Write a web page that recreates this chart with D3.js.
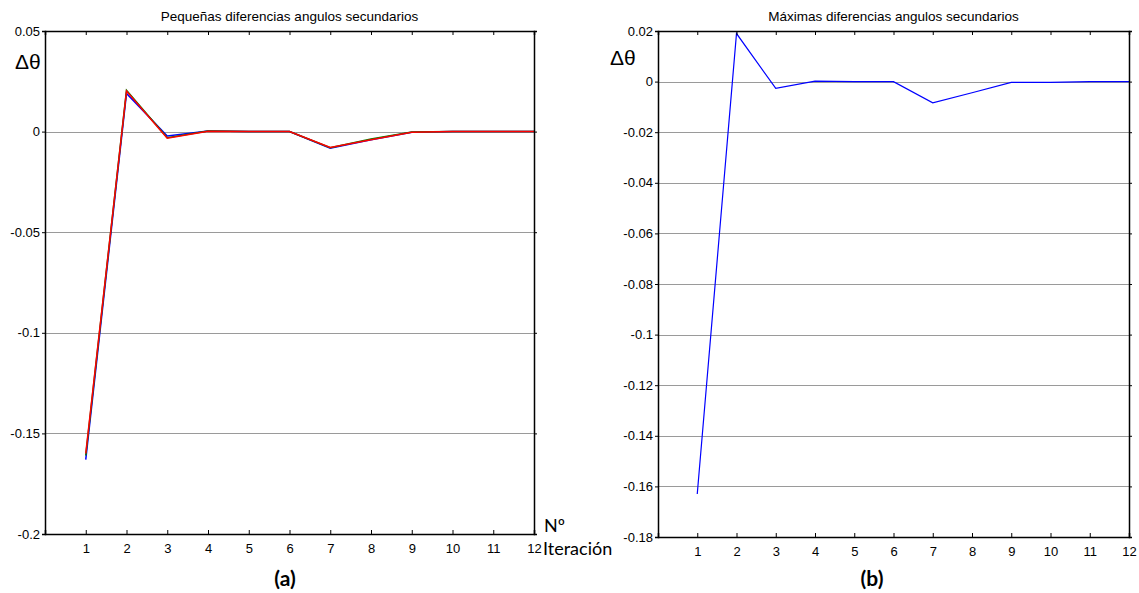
<!DOCTYPE html>
<html>
<head>
<meta charset="utf-8">
<script src="https://cdn.jsdelivr.net/npm/d3@7"></script>
<style>
  body { margin: 0; background: #fff; }
  svg { display: block; }
</style>
</head>
<body>
<svg id="chart" width="1139" height="593"></svg>
<script>
// ---- data ----
const iterations = [1, 2, 3, 4, 5, 6, 7, 8, 9, 10, 11, 12];
const xTicks = [1, 2, 3, 4, 5, 6, 7, 8, 9, 10, 11, 12];

// (a) Pequeñas diferencias: three almost identical series
const pequenasAzul  = [-0.163, 0.019, -0.0022, 0.0003, 0, 0, -0.0083, -0.0041, -0.0003, 0, 0, 0];
const pequenasVerde = [-0.161, 0.0205, -0.0030, 0.0003, 0, 0, -0.0080, -0.0037, -0.0002, 0, 0, 0];
const pequenasRoja  = [-0.160, 0.0202, -0.0033, 0.0002, 0, 0, -0.0079, -0.0040, -0.0003, 0, 0, 0];

// (b) Máximas diferencias
const maximas = [-0.163, 0.019, -0.0027, 0.0002, 0, 0, -0.0084, -0.0044, -0.0003, -0.0003, 0, 0];

const yTicksA = [-0.2, -0.15, -0.1, -0.05, 0, 0.05];
const yLabelsA = ["-0.2", "-0.15", "-0.1", "-0.05", "0", "0.05"];
const yTicksB = [-0.18, -0.16, -0.14, -0.12, -0.1, -0.08, -0.06, -0.04, -0.02, 0, 0.02];
const yLabelsB = ["-0.18", "-0.16", "-0.14", "-0.12", "-0.1", "-0.08", "-0.06", "-0.04", "-0.02", "0", "0.02"];

const svg = d3.select("#chart");

function panel(opts) {
  const { left, right, top, bottom, yDomain, yTicks, yLabels, series, title, label } = opts;
  const g = svg.append("g");
  const x = d3.scaleLinear().domain([0, 12]).range([left, right]);
  const y = d3.scaleLinear().domain(yDomain).range([bottom, top]);

  // gridlines (interior ticks only)
  g.append("g").selectAll("line")
    .data(yTicks.filter(v => v > yDomain[0] + 1e-9 && v < yDomain[1] - 1e-9))
    .join("line")
    .attr("x1", left).attr("x2", right)
    .attr("y1", d => Math.round(y(d)) + 0.5).attr("y2", d => Math.round(y(d)) + 0.5)
    .attr("stroke", "#9a9a9a").attr("stroke-width", 1);

  // series
  const line = d3.line().x((d, i) => x(iterations[i])).y(d => y(d));
  series.forEach(s => {
    g.append("path").datum(s.values)
      .attr("d", line)
      .attr("fill", "none")
      .attr("stroke", s.color)
      .attr("stroke-width", opts.lw);
  });

  // axes with inward ticks (MATLAB style box)
  const fmtY = v => yLabels[yTicks.indexOf(v)];
  g.append("g").attr("transform", `translate(0,${bottom})`)
    .call(d3.axisBottom(x).tickValues(xTicks).tickSize(-4).tickPadding(10).tickFormat(d3.format("d")))
    .call(a => a.select(".domain").attr("stroke", "#000").attr("stroke-width", 1.5));
  g.append("g").attr("transform", `translate(0,${top})`)
    .call(d3.axisTop(x).tickValues(xTicks).tickSize(-4).tickFormat(""))
    .call(a => a.select(".domain").attr("stroke", "#000").attr("stroke-width", 1.5));
  g.append("g").attr("transform", `translate(${left},0)`)
    .call(d3.axisLeft(y).tickValues(yTicks).tickSize(3).tickPadding(2).tickFormat(fmtY))
    .call(a => a.select(".domain").attr("stroke", "#000").attr("stroke-width", 1.5));
  g.append("g").attr("transform", `translate(${right},0)`)
    .call(d3.axisRight(y).tickValues(yTicks).tickSize(3).tickFormat(""))
    .call(a => a.select(".domain").attr("stroke", "#000").attr("stroke-width", 1.5));

  g.selectAll(".tick text")
    .attr("font-family", "'Liberation Sans', Arial, sans-serif")
    .attr("font-size", 13)
    .attr("fill", "#000");
  g.selectAll(".tick line").attr("stroke", "#000");

  // title
  g.append("text")
    .attr("x", (left + right) / 2).attr("y", 21)
    .attr("text-anchor", "middle")
    .attr("font-family", "'Liberation Sans', Arial, sans-serif")
    .attr("font-size", 13.5)
    .text(title);

  // Δθ label
  g.append("text")
    .attr("x", opts.dthX).attr("y", opts.dthY)
    .attr("font-family", "'Liberation Sans', Arial, sans-serif")
    .attr("font-size", 21)
    .text("Δθ");

  // panel label
  g.append("text")
    .attr("x", opts.labX).attr("y", 586)
    .attr("text-anchor", "middle")
    .attr("font-family", "Lato, 'Open Sans', sans-serif")
    .attr("font-weight", "bold")
    .attr("font-size", 21)
    .text(label);
  return { x, y };
}

panel({
  left: 45, right: 534, top: 31, bottom: 534,
  yDomain: [-0.2, 0.05], yTicks: yTicksA, yLabels: yLabelsA,
  series: [
    { values: pequenasAzul, color: "#0000ff" },
    { values: pequenasVerde, color: "#008000" },
    { values: pequenasRoja, color: "#ff0000" }
  ],
  lw: 1.5,
  title: "Pequeñas diferencias angulos secundarios",
  label: "(a)", labX: 285, dthX: 15, dthY: 69
});

panel({
  left: 658, right: 1129, top: 31, bottom: 537,
  yDomain: [-0.18, 0.02], yTicks: yTicksB, yLabels: yLabelsB,
  series: [{ values: maximas, color: "#0000ff" }],
  lw: 1.2,
  title: "Máximas diferencias angulos secundarios",
  label: "(b)", labX: 872, dthX: 610, dthY: 65
});

// x axis label for (a)
svg.append("text").attr("x", 544).attr("y", 532)
  .attr("font-family", "Lato, 'Open Sans', sans-serif").attr("font-size", 18)
  .text("Nº");
svg.append("text").attr("x", 543).attr("y", 555)
  .attr("font-family", "Lato, 'Open Sans', sans-serif").attr("font-size", 18)
  .text("Iteración");
</script>
</body>
</html>
